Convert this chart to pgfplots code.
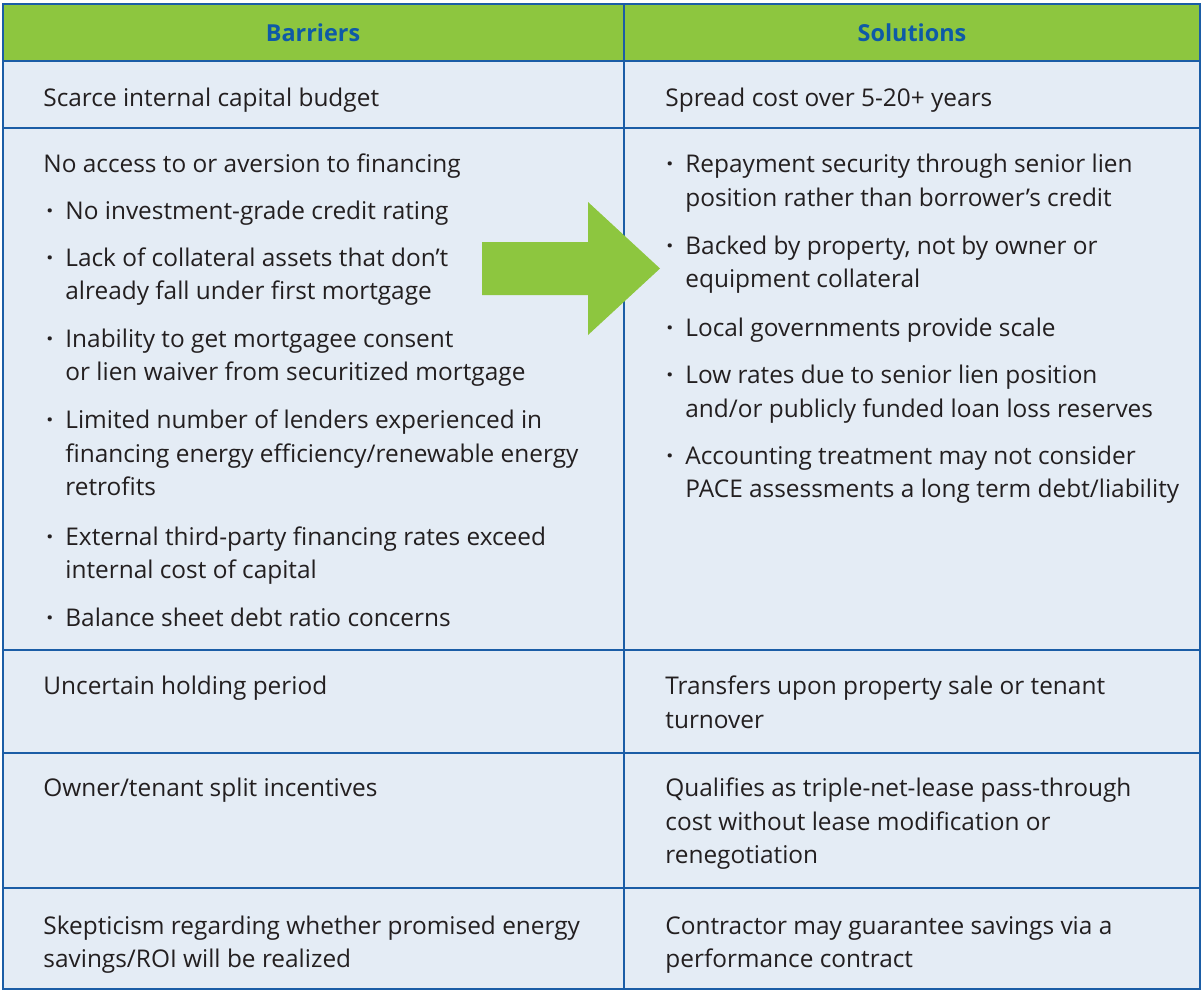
\documentclass[border=0pt]{standalone}
\usepackage{pgfplots}
\pgfplotsset{compat=1.18}
\usepackage{fontspec}
\setmainfont{Open Sans}
\definecolor{hdrgreen}{HTML}{8DC63F}
\definecolor{hdrblue}{HTML}{0E5AA7}
\definecolor{rule}{HTML}{1B5DA6}
\definecolor{cellbg}{HTML}{E4ECF5}
\definecolor{txt}{HTML}{231F20}
\newcommand{\bodyfont}{\fontsize{12.2}{14}\selectfont\color{txt}}
\newcommand{\T}[3]{\node[anchor=base west,inner sep=0pt,font=\bodyfont] at (axis cs:#1,#2) {#3};}
\newcommand{\B}[3]{\node[anchor=base west,inner sep=0pt,font=\bodyfont\bfseries] at (axis cs:#1-19,#2) {\textperiodcentered};\node[anchor=base west,inner sep=0pt,font=\bodyfont] at (axis cs:#1,#2) {#3};}
\begin{document}
\begin{tikzpicture}
\begin{axis}[x=0.5pt, y=0.5pt, y dir=reverse, xmin=0, xmax=1203, ymin=0, ymax=992,
  axis lines=none, clip=false, scale only axis]
\path[draw=none] (axis cs:0,0) rectangle (axis cs:1203,992);
% backgrounds
\addplot[fill=cellbg, draw=none] coordinates {(3,4) (1200,4) (1200,989) (3,989)} -- cycle;
\addplot[fill=hdrgreen, draw=none] coordinates {(3,4) (1200,4) (1200,61) (3,61)} -- cycle;
% grid lines
\addplot[rule, line width=1pt] coordinates {(3,61) (1200,61)};
\addplot[rule, line width=1pt] coordinates {(3,128) (1200,128)};
\addplot[rule, line width=1pt] coordinates {(3,650) (1200,650)};
\addplot[rule, line width=1pt] coordinates {(3,753) (1200,753)};
\addplot[rule, line width=1pt] coordinates {(3,888) (1200,888)};
\addplot[rule, line width=1pt] coordinates {(624,4) (624,989)};
\addplot[rule, line width=1.3pt] coordinates {(3,4) (1200,4) (1200,989) (3,989)} -- cycle;
% arrow
\addplot[fill=hdrgreen, draw=none] coordinates {(482,242) (588,242) (588,202) (660,268.5) (588,335) (588,295) (482,295)} -- cycle;
% headers
\node[font=\fontsize{11.7}{14}\selectfont\bfseries\color{hdrblue}] at (axis cs:313,33) {Barriers};
\node[font=\fontsize{11.7}{14}\selectfont\bfseries\color{hdrblue}] at (axis cs:912,33) {Solutions};
% left column
\T{43}{106}{Scarce internal capital budget}
\T{43}{172}{No access to or aversion to financing}
\B{65}{219}{No investment-grade credit rating}
\B{65}{266}{Lack of collateral assets that don’t}
\T{65}{299}{already fall under first mortgage}
\B{65}{347}{Inability to get mortgagee consent}
\T{65}{380}{or lien waiver from securitized mortgage}
\B{65}{428}{Limited number of lenders experienced in}
\T{65}{462}{financing energy efficiency/renewable energy}
\T{65}{495}{retrofits}
\B{65}{545}{External third-party financing rates exceed}
\T{65}{578}{internal cost of capital}
\B{65}{626}{Balance sheet debt ratio concerns}
\T{43}{694}{Uncertain holding period}
\T{43}{796}{Owner/tenant split incentives}
\T{43}{934}{Skepticism regarding whether promised energy}
\T{43}{967}{savings/ROI will be realized}
% right column
\T{665}{106}{Spread cost over 5-20+ years}
\B{685}{172}{Repayment security through senior lien}
\T{685}{206}{position rather than borrower’s credit}
\B{685}{254}{Backed by property, not by owner or}
\T{685}{287}{equipment collateral}
\B{685}{336}{Local governments provide scale}
\B{685}{383}{Low rates due to senior lien position}
\T{685}{417}{and/or publicly funded loan loss reserves}
\B{685}{464}{Accounting treatment may not consider}
\T{685}{497}{PACE assessments a long term debt/liability}
\T{665}{694}{Transfers upon property sale or tenant}
\T{665}{728}{turnover}
\T{665}{796}{Qualifies as triple-net-lease pass-through}
\T{665}{830}{cost without lease modification or}
\T{665}{863}{renegotiation}
\T{665}{934}{Contractor may guarantee savings via a}
\T{665}{967}{performance contract}
\end{axis}
\end{tikzpicture}
\end{document}
